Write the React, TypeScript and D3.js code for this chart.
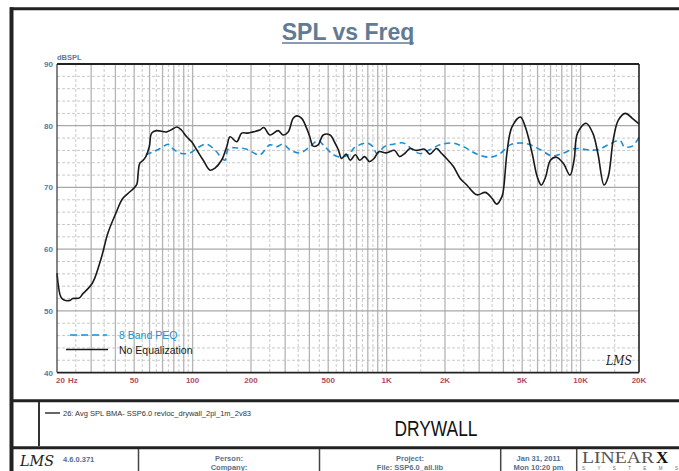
import React from "react";
import * as d3 from "d3";

const noEqFreq = [20, 20.9, 21.6, 23.3, 24.1, 26.1, 27.2, 28.5, 30.3, 31.3, 34.0, 36.6, 40.2, 43.6, 47.5, 51.4, 52.4, 53.4, 55.6, 57.4, 59.8, 61.5, 65.1, 73.5, 78.2, 83.1, 87.5, 93.2, 98.9, 105, 113.5, 123, 130, 141, 150, 156, 169, 179, 193, 205, 222, 233, 250, 276, 293, 311, 330, 344, 365, 387, 402, 418, 444, 471, 511, 542, 564, 586, 619, 650, 690, 726, 770, 815, 862, 912, 996, 1100, 1165, 1240, 1320, 1420, 1570, 1670, 1810, 1920, 2035, 2210, 2390, 2590, 2920, 3230, 3500, 3690, 3940, 4020, 4190, 4430, 4890, 5190, 5630, 5980, 6270, 6600, 6990, 7510, 8140, 8810, 9250, 9640, 10660, 11560, 12280, 13210, 13870, 14730, 15650, 17000, 18470, 20000];
const noEqSpl = [56.1, 52.3, 51.8, 51.7, 52.0, 52.1, 52.8, 53.4, 54.4, 55.3, 58.8, 62.6, 65.8, 68.2, 69.3, 70.4, 72.3, 73.9, 74.4, 75.0, 76.6, 78.8, 79.2, 79.0, 79.4, 79.8, 79.3, 78.2, 77.4, 76.1, 74.4, 72.8, 73.1, 74.4, 76.6, 78.2, 77.4, 78.8, 78.8, 79.0, 79.3, 79.7, 78.5, 79.2, 78.5, 79.0, 81.2, 81.6, 81.2, 79.6, 78.2, 76.7, 76.9, 78.5, 78.5, 77.2, 76.1, 74.7, 75.4, 74.4, 75.3, 74.4, 75.0, 74.2, 74.7, 75.8, 75.6, 76.0, 75.0, 75.5, 76.3, 76.0, 76.2, 75.4, 76.3, 75.5, 74.7, 73.4, 71.5, 70.4, 68.8, 69.2, 68.2, 67.3, 68.6, 70.1, 76.1, 79.8, 81.4, 79.8, 75.5, 71.7, 70.4, 71.7, 74.4, 74.9, 73.9, 72.0, 74.4, 78.8, 80.4, 78.8, 75.5, 70.4, 71.7, 77.7, 80.9, 82.0, 81.2, 80.3];

const peqFreq = [57.4, 62.9, 68, 75, 79.6, 87.7, 97, 107, 118, 130, 142, 147, 153, 169, 190, 222, 250, 270, 293, 318, 358, 402, 444, 471, 532, 586, 650, 674, 787, 851, 889, 982, 1083, 1220, 1340, 1480, 1670, 1880, 2170, 2490, 2920, 3420, 3850, 4330, 4890, 5520, 6210, 7130, 8030, 9410, 10870, 12280, 13870, 15950, 16810, 18470, 20000];
const peqSpl = [75.3, 75.8, 76.3, 77.0, 76.2, 75.5, 75.6, 76.5, 77.0, 76.1, 74.7, 74.4, 76.3, 76.4, 76.2, 75.3, 76.9, 76.6, 77.0, 76.1, 75.6, 76.6, 77.6, 76.9, 75.3, 74.9, 75.5, 76.3, 77.2, 76.6, 75.5, 76.7, 77.0, 77.2, 76.3, 75.5, 76.1, 76.9, 77.2, 76.6, 75.4, 74.9, 75.5, 76.9, 77.2, 76.9, 76.1, 75.1, 75.5, 76.3, 76.1, 76.1, 76.9, 77.6, 76.6, 76.7, 78.1];

const xTickValues = [20, 50, 100, 200, 500, 1000, 2000, 5000, 10000, 20000];
const xTickLabels = ["20", "50", "100", "200", "500", "1K", "2K", "5K", "10K", "20K"];
const yTickValues = [40, 50, 60, 70, 80, 90];
const legendLabels = ["8 Band PEQ", "No Equalization"];

const W = 679, H = 471;
const plot = { left: 57, right: 639, top: 64, bottom: 372.6 };
const font = "'Liberation Sans', Arial, sans-serif";

export default function App() {
  const x = d3.scaleLog().domain([20, 20000]).range([plot.left, plot.right]);
  const y = d3.scaleLinear().domain([40, 90]).range([plot.bottom, plot.top]);

  const majorV: number[] = [];
  const minorV: number[] = [];
  [10, 100, 1000, 10000].forEach((dec) => {
    for (let m = 1; m <= 9; m++) {
      const f = dec * m;
      if (f > 20 && f < 20000) majorV.push(f);
      const mid = dec * (m + 0.5);
      if (mid > 20 && mid < 20000) minorV.push(mid);
    }
  });
  const majorH = [50, 60, 70, 80];
  const minorH: number[] = [];
  for (let v = 42; v < 90; v += 2) if (v % 10 !== 0) minorH.push(v);

  const line = d3
    .line<[number, number]>()
    .x((d) => x(d[0]))
    .y((d) => y(d[1]))
    .curve(d3.curveCatmullRom.alpha(0.5));

  const noEqPath = line(noEqFreq.map((f, i) => [f, noEqSpl[i]]) as [number, number][]) || "";
  const peqPath = line(peqFreq.map((f, i) => [f, peqSpl[i]]) as [number, number][]) || "";

  const blue = "#1b8fd2";
  const yLabelColor = "#5a7aa0";
  const xLabelColor = "#b24a5c";
  const infoColor = "#4f6f96";

  return (
    <svg width={W} height={H} style={{ position: "absolute", left: 0, top: 0, background: "#fff" }} fontFamily={font}>
      <rect x={0} y={0} width={W} height={H} fill="#fff" />
      {/* Title */}
      <text x={348} y={40} textAnchor="middle" fontSize={23} fontWeight="bold" fill="#627b94">SPL vs Freq</text>
      <line x1={282} x2={414} y1={43} y2={43} stroke="#627b94" strokeWidth={1.6} />

      {/* grid */}
      <g>
        {minorH.map((v) => (
          <line key={"mh" + v} x1={plot.left} x2={plot.right} y1={y(v)} y2={y(v)} stroke="#c9c9c9" strokeWidth={1} strokeDasharray="3,2" />
        ))}
        {minorV.map((f) => (
          <line key={"mv" + f} x1={x(f)} x2={x(f)} y1={plot.top} y2={plot.bottom} stroke="#c9c9c9" strokeWidth={1} strokeDasharray="3,2" />
        ))}
        {majorV.map((f) => (
          <line key={"Mv" + f} x1={x(f)} x2={x(f)} y1={plot.top} y2={plot.bottom} stroke="#b4b4b4" strokeWidth={1.3} />
        ))}
        {majorH.map((v) => (
          <line key={"Mh" + v} x1={plot.left} x2={plot.right} y1={y(v)} y2={y(v)} stroke="#a8a8a8" strokeWidth={1.3} />
        ))}
      </g>

      {/* curves */}
      <path d={peqPath} fill="none" stroke={blue} strokeWidth={1.6} strokeDasharray="6,4" />
      <path d={noEqPath} fill="none" stroke="#1a1a1a" strokeWidth={1.6} />

      {/* plot frame */}
      <line x1={plot.left} x2={plot.left} y1={plot.top} y2={plot.bottom} stroke="#333" strokeWidth={1.2} />
      <line x1={plot.right} x2={plot.right} y1={plot.top} y2={plot.bottom} stroke="#222" strokeWidth={1.6} />
      <line x1={plot.left} x2={plot.right} y1={plot.top} y2={plot.top} stroke="#222" strokeWidth={1.8} />
      <line x1={plot.left} x2={plot.right} y1={plot.bottom} y2={plot.bottom} stroke="#222" strokeWidth={1.8} />

      {/* y axis labels */}
      {yTickValues.map((v) => (
        <text key={"yl" + v} x={53} y={y(v) + 3} textAnchor="end" fontSize={8} fontWeight="bold" fill={yLabelColor}>{v}</text>
      ))}
      <text x={57} y={59.5} fontSize={7.5} fontWeight="bold" fill={yLabelColor}>dBSPL</text>

      {/* x axis labels */}
      {xTickValues.map((f, i) => (
        <text key={"xl" + f} x={i === 0 ? x(f) - 1 : x(f)} y={382.5} textAnchor={i === 0 ? "start" : "middle"} fontSize={8} fontWeight="bold" fill={xLabelColor}>{xTickLabels[i]}</text>
      ))}
      <text x={68} y={382.5} fontSize={8} fontWeight="bold" fill={xLabelColor}>Hz</text>

      {/* legend */}
      <line x1={70} x2={107} y1={335} y2={335} stroke={blue} strokeWidth={1.6} strokeDasharray="7,4" />
      <text x={119} y={339} fontSize={10.5} fill={blue}>{legendLabels[0]}</text>
      <line x1={66} x2={108} y1={349.5} y2={349.5} stroke="#1a1a1a" strokeWidth={1.6} />
      <text x={119} y={353.5} fontSize={10.5} fill="#1a1a1a">{legendLabels[1]}</text>

      {/* LMS logo in plot */}
      <text x={606} y={365} fontSize={13} fontStyle="italic" fontFamily="'DejaVu Serif', serif" fill="#222" textLength={26} lengthAdjust="spacingAndGlyphs">LMS</text>

      {/* outer frame */}
      <line x1={10} x2={W} y1={8.7} y2={8.7} stroke="#222" strokeWidth={3} />
      <line x1={11.5} x2={11.5} y1={7.2} y2={H} stroke="#222" strokeWidth={4} />
      <line x1={10} x2={W} y1={400.7} y2={400.7} stroke="#222" strokeWidth={3} />
      <line x1={10} x2={W} y1={447.7} y2={447.7} stroke="#222" strokeWidth={3} />
      <line x1={39} x2={39} y1={402} y2={446} stroke="#333" strokeWidth={2} />
      {[138.5, 319.5, 500.7, 576.7].map((xv) => (
        <line key={"d" + xv} x1={xv} x2={xv} y1={449} y2={H} stroke="#444" strokeWidth={1.5} />
      ))}

      {/* info panel */}
      <line x1={45} x2={60} y1={413} y2={413} stroke="#333" strokeWidth={1.5} />
      <text x={63} y={415.5} fontSize={7.5} fill="#333">26:  Avg SPL BMA- SSP6.0 revloc_drywall_2pi_1m_2v83</text>
      <text x={436} y={436} textAnchor="middle" fontSize={22} fill="#111" textLength={83} lengthAdjust="spacingAndGlyphs">DRYWALL</text>

      {/* bottom row */}
      <text x={20} y={466} fontSize={15} fontStyle="italic" fontFamily="'DejaVu Serif', serif" fill="#222" textLength={34} lengthAdjust="spacingAndGlyphs">LMS</text>
      <text x={63} y={462} fontSize={7.5} fontWeight="bold" fill={infoColor}>4.6.0.371</text>
      <text x={229} y={461} textAnchor="middle" fontSize={7.5} fontWeight="bold" fill="#5a6f8c">Person:</text>
      <text x={229} y={470} textAnchor="middle" fontSize={7.5} fontWeight="bold" fill="#5a6f8c">Company:</text>
      <text x={410} y={461} textAnchor="middle" fontSize={7.5} fontWeight="bold" fill="#5a6f8c">Project:</text>
      <text x={410} y={470} textAnchor="middle" fontSize={7.5} fontWeight="bold" fill="#5a6f8c">File: SSP6.0_all.lib</text>
      <text x={538.5} y={461} textAnchor="middle" fontSize={7.5} fontWeight="bold" fill={infoColor}>Jan 31, 2011</text>
      <text x={538.5} y={470} textAnchor="middle" fontSize={7.5} fontWeight="bold" fill={infoColor}>Mon 10:20 pm</text>
      <text x={582} y={463} fontSize={16} fontFamily="'Liberation Serif', 'DejaVu Serif', serif" fill="#555" textLength={72} lengthAdjust="spacingAndGlyphs">LINEAR</text>
      <text x={656} y={463} fontSize={17} fontWeight="bold" fontFamily="'Liberation Serif', serif" fill="#111">X</text>
      <text x={582} y={470} fontSize={4.5} fill="#666" textLength={96} lengthAdjust="spacing">S Y S T E M S</text>
    </svg>
  );
}
